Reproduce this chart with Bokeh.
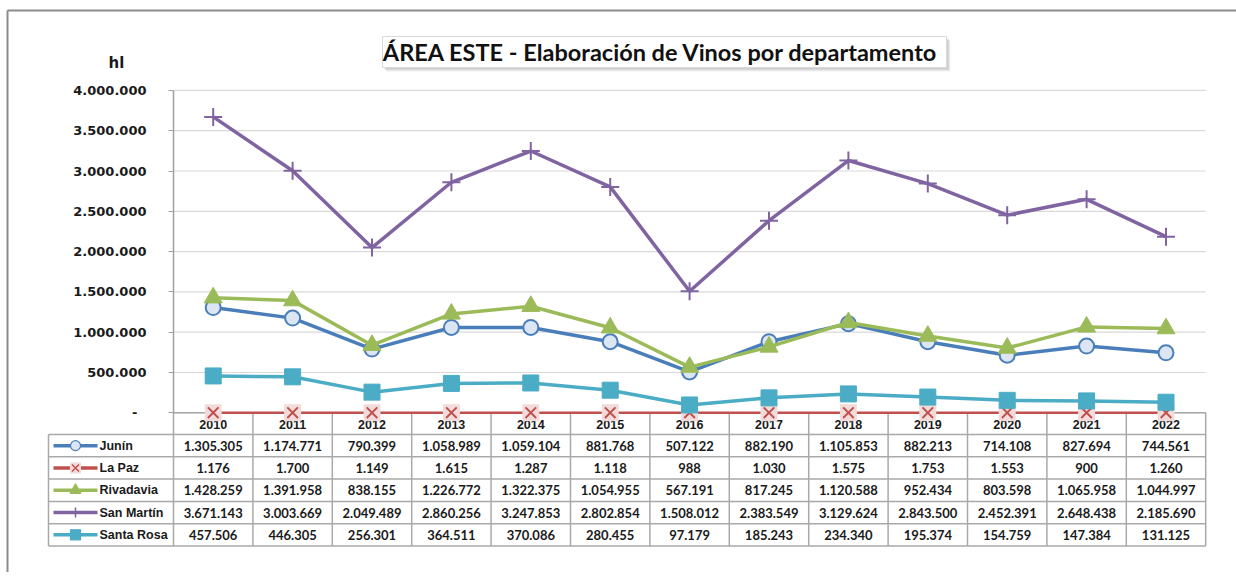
from bokeh.plotting import figure
from bokeh.models import FixedTicker, LinearAxis, Range1d
from bokeh.core.properties import value
from bokeh.embed import file_html
from bokeh.resources import INLINE

# ---------------- data ----------------
years = ["2010", "2011", "2012", "2013", "2014", "2015", "2016",
         "2017", "2018", "2019", "2020", "2021", "2022"]
series_names = ["Junín", "La Paz", "Rivadavia", "San Martín", "Santa Rosa"]
junin = [1305305, 1174771, 790399, 1058989, 1059104, 881768, 507122,
         882190, 1105853, 882213, 714108, 827694, 744561]
la_paz = [1176, 1700, 1149, 1615, 1287, 1118, 988,
          1030, 1575, 1753, 1553, 900, 1260]
rivadavia = [1428259, 1391958, 838155, 1226772, 1322375, 1054955, 567191,
             817245, 1120588, 952434, 803598, 1065958, 1044997]
san_martin = [3671143, 3003669, 2049489, 2860256, 3247853, 2802854, 1508012,
              2383549, 3129624, 2843500, 2452391, 2648438, 2185690]
santa_rosa = [457506, 446305, 256301, 364511, 370086, 280455, 97179,
              185243, 234340, 195374, 154759, 147384, 131125]
y_ticks = [0, 500000, 1000000, 1500000, 2000000, 2500000, 3000000, 3500000, 4000000]
title_text = "ÁREA ESTE - Elaboración  de Vinos por departamento"
unit_text = "hl"

all_series = [junin, la_paz, rivadavia, san_martin, santa_rosa]

# ---------------- geometry (page pixels -> data) ----------------
W, H = 1236, 572
ORG = 0                # page position of the canvas origin
COL_PX = 79.4          # width of one year column
PX_PER_UNIT_Y = 80.6 / 1e6
X0_PAGE = 212.7        # page x of first year centre
Y0_PAGE = 412.3        # page y of value 0


def X(px):
    return (px - X0_PAGE) / COL_PX


def Y(py):
    return (Y0_PAGE - py) / PX_PER_UNIT_Y


p = figure(width=W, height=H,
           x_range=Range1d(X(ORG), X(ORG + W)), y_range=Range1d(Y(ORG + H), Y(ORG)),
           x_axis_type=None, y_axis_type=None,
           output_backend="svg", toolbar_location=None, min_border=0)
p.outline_line_color = None
p.background_fill_color = "white"
p.border_fill_color = "white"

n = len(years)
idx = list(range(n))
x_left_axis = X(173)
x_right = X(173 + COL_PX * n)

# outer border (left and top)
p.segment(x0=[X(7), X(7)], y0=[Y(10), Y(10)], x1=[X(7), X(ORG + W)], y1=[Y(ORG + H), Y(10)],
          line_color="#8c8c8c", line_width=2)

# gridlines
p.segment(x0=[x_left_axis] * len(y_ticks), x1=[x_right] * len(y_ticks), y0=y_ticks, y1=y_ticks,
          line_color="#d9d9d9", line_width=1.2)

# y axis
def fmt(v):
    return f"{v:,}".replace(",", ".")

overrides = {t: fmt(t) for t in y_ticks}
overrides[0] = "-\u00a0\u00a0"
yax = LinearAxis(ticker=FixedTicker(ticks=y_ticks), fixed_location=x_left_axis,
                 bounds=(0, 4000000), major_label_overrides=overrides)
yax.axis_line_color = "#a0a0a0"
yax.axis_line_width = 1.5
yax.major_tick_line_color = "#a0a0a0"
yax.major_tick_out = 5
yax.major_tick_in = 0
yax.minor_tick_line_color = None
yax.major_label_standoff = 22
yax.major_label_text_font = "DejaVu Sans"
yax.major_label_text_font_style = "bold"
yax.major_label_text_font_size = "13px"
yax.major_label_text_color = "#1a1a1a"
p.add_layout(yax, "left")

# ---------------- table ----------------
row_lines = [Y0_PAGE, 434.0, 456.3, 478.6, 500.9, 523.2, 545.5]
tbl_left = X(48)
grid_c = "#a9a9a9"
# horizontal lines
p.segment(x0=[x_left_axis], x1=[x_right], y0=[0], y1=[0], line_color=grid_c, line_width=1.5)
p.segment(x0=[tbl_left] * 6, x1=[x_right] * 6,
          y0=[Y(v) for v in row_lines[1:]], y1=[Y(v) for v in row_lines[1:]],
          line_color=grid_c, line_width=1.5)
# vertical lines
vx = [x_left_axis + k for k in range(n + 1)]
p.segment(x0=vx, x1=vx, y0=[0] * len(vx), y1=[Y(row_lines[-1])] * len(vx),
          line_color=grid_c, line_width=1.5)
p.segment(x0=[tbl_left], x1=[tbl_left], y0=[Y(row_lines[1])], y1=[Y(row_lines[-1])],
          line_color=grid_c, line_width=1.5)

# year header
p.text(x=idx, y=[Y(424)] * n, text=years, text_font=value("Liberation Sans"),
       text_font_style="bold", text_font_size="12.5px", text_align="center",
       text_baseline="middle", text_color="#1a1a1a")

# ---------------- series ----------------
styles = [
    dict(color="#4a7ebb", lw=3.5, marker="circle", size=15, fill="#dce6f2", mlw=2),
    dict(color="#c0504d", lw=2.5, marker="x", size=15, fill=None, mlw=2),
    dict(color="#9bbb59", lw=3.5, marker="triangle", size=18, fill="#9bbb59", mlw=1),
    dict(color="#8064a2", lw=3.5, marker="cross", size=18, fill=None, mlw=2),
    dict(color="#4bacc6", lw=3.5, marker="square", size=16, fill="#4bacc6", mlw=1),
]

for vals, st in zip(all_series, styles):
    p.line(x=idx, y=vals, line_color=st["color"], line_width=st["lw"])
    if st["marker"] == "x":
        p.scatter(x=idx, y=vals, marker="square", size=17, fill_color="#f2dcdb",
                  line_color=None)
    p.scatter(x=idx, y=vals, marker=st["marker"], size=st["size"],
              fill_color=st["fill"], line_color=st["color"], line_width=st["mlw"])

# legend column + values
for r, (name, vals, st) in enumerate(zip(series_names, all_series, styles)):
    cy = Y((row_lines[r + 1] + row_lines[r + 2]) / 2)
    p.segment(x0=[X(53)], x1=[X(97)], y0=[cy], y1=[cy], line_color=st["color"], line_width=3.5)
    if st["marker"] == "x":
        p.scatter(x=[X(75)], y=[cy], marker="square", size=11, fill_color="#f2dcdb", line_color=None)
        p.scatter(x=[X(75)], y=[cy], marker="x", size=10, line_color=st["color"], line_width=1.5)
    elif st["marker"] == "cross":
        p.scatter(x=[X(75)], y=[cy], marker="dash", angle=1.5708, size=10,
                  line_color=st["color"], line_width=1.5)
    else:
        p.scatter(x=[X(75)], y=[cy], marker=st["marker"], size=10 if st["marker"] != "triangle" else 11,
                  fill_color=st["fill"], line_color=st["color"], line_width=1.2)
    p.text(x=[X(99)], y=[cy], text=[name], text_font=value("Liberation Sans"),
           text_font_style="bold", text_font_size="12.5px", text_align="left",
           text_baseline="middle", text_color="#1a1a1a")
    p.text(x=idx, y=[cy] * n, text=[fmt(v) for v in vals], text_font=value("Lato"),
           text_font_style="bold", text_font_size="13px", text_align="center",
           text_baseline="middle", text_color="#1a1a1a")

# ---------------- title box + unit ----------------
for k, a in [(4, 0.10), (3, 0.15), (2, 0.2)]:
    p.quad(left=[X(382 + k)], right=[X(946 + k)], top=[Y(36 + k)], bottom=[Y(67 + k)],
           fill_color="#808080", fill_alpha=a, line_color=None)
p.quad(left=[X(382)], right=[X(946)], top=[Y(36)], bottom=[Y(67)],
       fill_color="white", line_color="#d9d9d9", line_width=1)
p.text(x=[X(663)], y=[Y(51.5)], text=[title_text], text_font=value("Lato"),
       text_font_style="bold", text_font_size="23.5px", text_align="center",
       text_baseline="middle", text_color="#111111")
p.text(x=[X(116)], y=[Y(62)], text=[unit_text], text_font=value("DejaVu Sans"),
       text_font_style="bold", text_font_size="15px", text_align="center",
       text_baseline="middle", text_color="#1a1a1a")

open("out.html", "w").write(file_html(p, INLINE))
